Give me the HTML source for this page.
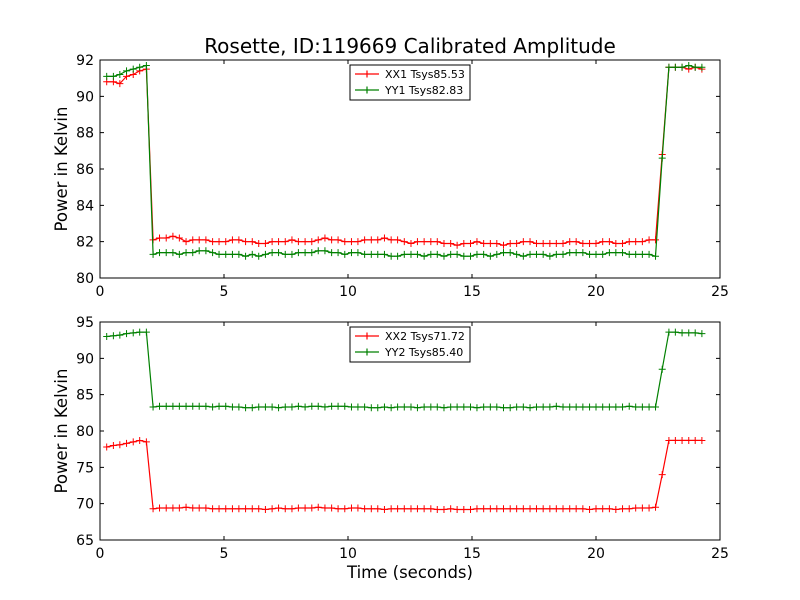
<!DOCTYPE html>
<html><head><meta charset="utf-8"><style>
body{margin:0;background:#fff}
svg{display:block;font-family:"DejaVu Sans","Liberation Sans",sans-serif}
</style></head><body>
<svg id="fig" width="800" height="600" viewBox="0 0 800 600" xmlns="http://www.w3.org/2000/svg">
<rect width="800" height="600" fill="#fff"/>
<text x="410" y="53" font-size="20" text-anchor="middle">Rosette, ID:119669 Calibrated Amplitude</text>
<g id="p1"></g><g id="p2"></g>
<text x="410" y="578" font-size="16.5" text-anchor="middle">Time (seconds)</text>
</svg>
<script>
const times=[0.27,0.54,0.80,1.07,1.34,1.60,1.87,2.14,2.40,2.67,2.94,3.20,3.47,3.74,4.00,4.27,4.54,4.80,5.07,5.34,5.60,5.87,6.14,6.40,6.67,6.94,7.20,7.47,7.74,8.00,8.27,8.54,8.80,9.07,9.34,9.60,9.87,10.14,10.40,10.67,10.94,11.20,11.47,11.74,12.00,12.27,12.54,12.80,13.07,13.34,13.60,13.87,14.14,14.40,14.67,14.94,15.20,15.47,15.74,16.00,16.27,16.54,16.80,17.07,17.34,17.60,17.87,18.14,18.40,18.67,18.94,19.20,19.47,19.74,20.00,20.27,20.54,20.80,21.07,21.34,21.60,21.87,22.14,22.40,22.67,22.94,23.20,23.47,23.74,24.00,24.27];
const xx1=[90.8,90.8,90.7,91.1,91.2,91.4,91.5,
82.1,82.2,82.2,82.3,82.2,82.0,82.1,82.1,82.1,82.0,82.0,
82.0,82.1,82.1,82.0,82.0,81.9,81.9,82.0,82.0,82.0,82.1,
82.0,82.0,82.0,82.1,82.2,82.1,82.1,82.0,82.0,82.0,82.1,
82.1,82.1,82.2,82.1,82.1,82.0,81.9,82.0,82.0,82.0,82.0,
81.9,81.9,81.8,81.9,81.9,82.0,81.9,81.9,81.9,81.8,81.9,
81.9,82.0,82.0,81.9,81.9,81.9,81.9,81.9,82.0,82.0,81.9,
81.9,81.9,82.0,82.0,81.9,81.9,82.0,82.0,82.0,82.1,82.1,
86.8,91.6,91.6,91.6,91.5,91.6,91.5];
const yy1=[91.1,91.1,91.2,91.4,91.5,91.6,91.7,
81.3,81.4,81.4,81.4,81.3,81.4,81.4,81.5,81.5,81.4,81.3,
81.3,81.3,81.3,81.2,81.3,81.2,81.3,81.4,81.4,81.3,81.3,
81.4,81.4,81.4,81.5,81.5,81.4,81.4,81.3,81.4,81.4,81.3,
81.3,81.3,81.3,81.2,81.2,81.3,81.3,81.3,81.2,81.3,81.3,
81.2,81.3,81.3,81.2,81.2,81.3,81.3,81.2,81.3,81.4,81.4,
81.3,81.2,81.3,81.3,81.3,81.2,81.3,81.3,81.4,81.4,81.4,
81.3,81.3,81.3,81.4,81.4,81.4,81.3,81.3,81.3,81.3,81.2,
86.6,91.6,91.6,91.6,91.7,91.6,91.6];
const xx2=[77.8,78.0,78.1,78.3,78.5,78.7,78.5,
69.3,69.4,69.4,69.4,69.4,69.5,69.4,69.4,69.4,69.3,69.3,
69.3,69.3,69.3,69.3,69.3,69.3,69.2,69.3,69.4,69.3,69.3,
69.4,69.4,69.4,69.5,69.4,69.4,69.3,69.3,69.4,69.4,69.3,
69.3,69.3,69.2,69.3,69.3,69.3,69.3,69.3,69.3,69.3,69.2,
69.2,69.3,69.2,69.2,69.2,69.3,69.3,69.3,69.3,69.3,69.3,
69.3,69.3,69.3,69.3,69.3,69.3,69.3,69.3,69.3,69.3,69.3,
69.2,69.3,69.3,69.3,69.2,69.3,69.3,69.4,69.4,69.4,69.5,
74.0,78.7,78.7,78.7,78.7,78.7,78.7];
const yy2=[93.0,93.1,93.2,93.4,93.5,93.6,93.6,
83.3,83.4,83.4,83.4,83.4,83.4,83.4,83.4,83.4,83.3,83.4,
83.4,83.3,83.3,83.2,83.2,83.3,83.3,83.3,83.2,83.3,83.3,
83.4,83.3,83.4,83.4,83.3,83.4,83.4,83.4,83.3,83.3,83.3,
83.2,83.2,83.3,83.2,83.3,83.3,83.3,83.2,83.3,83.3,83.3,
83.2,83.3,83.3,83.3,83.3,83.2,83.3,83.3,83.3,83.2,83.2,
83.3,83.3,83.2,83.3,83.3,83.3,83.4,83.3,83.3,83.3,83.3,
83.3,83.3,83.3,83.3,83.3,83.3,83.4,83.3,83.3,83.3,83.3,
88.5,93.6,93.6,93.5,93.5,93.5,93.4];
const xTicks=[0,5,10,15,20,25];
const yTicks1=[80,82,84,86,88,90,92];
const yTicks2=[65,70,75,80,85,90,95];
const legend1=["XX1 Tsys85.53","YY1 Tsys82.83"];
const legend2=["XX2 Tsys71.72","YY2 Tsys85.40"];
const NS="http://www.w3.org/2000/svg";
function mk(tag,attrs,parent){const e=document.createElementNS(NS,tag);for(const k in attrs)e.setAttribute(k,attrs[k]);parent.appendChild(e);return e;}
function panel(g,top,bot,ymin,ymax,yt,series,labels,tag){
  const L=100,R=720;
  const sx=v=>L+(v-0)/(25-0)*(R-L);
  const sy=v=>bot-(v-ymin)/(ymax-ymin)*(bot-top);
  const colors=["#ff0000","#008000"];
  series.forEach((s,k)=>{
    const d=s.map((v,i)=>(i?"L":"M")+sx(times[i]).toFixed(1)+","+sy(v).toFixed(1)).join("");
    const p=mk("path",{d:d,fill:"none",stroke:colors[k],"stroke-width":1.2},g);
    
    
    s.forEach((v,i)=>{
      const x=sx(times[i]),y=sy(v);
      const m=mk("path",{d:`M${x-3.5},${y}H${x+3.5}M${x},${y-3.5}V${y+3.5}`,stroke:colors[k],"stroke-width":1},g);
      
      
    });
  });
  const frame=mk("rect",{x:L,y:top,width:R-L,height:bot-top,fill:"none",stroke:"#000","stroke-width":1},g);
  
  
  xTicks.forEach(t=>{
    const x=sx(t);
    mk("path",{d:`M${x},${bot}v-4M${x},${top}v4`,stroke:"#000"},g);
    const tx=mk("text",{x:x,y:bot+18,"font-size":14,"text-anchor":"middle"},g);
    tx.textContent=t;
    
    
  });
  yt.forEach(t=>{
    const y=sy(t);
    mk("path",{d:`M${L},${y}h4M${R},${y}h-4`,stroke:"#000"},g);
    const tx=mk("text",{x:L-6,y:y+5,"font-size":14,"text-anchor":"end"},g);
    tx.textContent=t;
    
    
  });
  const yl=mk("text",{x:0,y:0,"font-size":16.5,"text-anchor":"middle",transform:`translate(67,${(top+bot)/2}) rotate(-90)`},g);
  yl.textContent="Power in Kelvin";
  
  
  const lg=mk("g",{},g);
  
  
  mk("rect",{x:350,y:top+5,width:120,height:35,fill:"#fff",stroke:"#000","stroke-width":1},lg);
  labels.forEach((lab,k)=>{
    const y=top+14+k*16;
    const e=mk("g",{},lg);
    
    
    mk("path",{d:`M355,${y}h24M367,${y-3.5}v7`,stroke:colors[k],"stroke-width":1.2},e);
    const tx=mk("text",{x:385,y:y+4,"font-size":11},e);
    tx.textContent=lab;
  });
}
panel(document.getElementById("p1"),60,278,80,92,yTicks1,[xx1,yy1],legend1,"top");
panel(document.getElementById("p2"),322,540,65,95,yTicks2,[xx2,yy2],legend2,"bottom");
</script>
</body></html>
